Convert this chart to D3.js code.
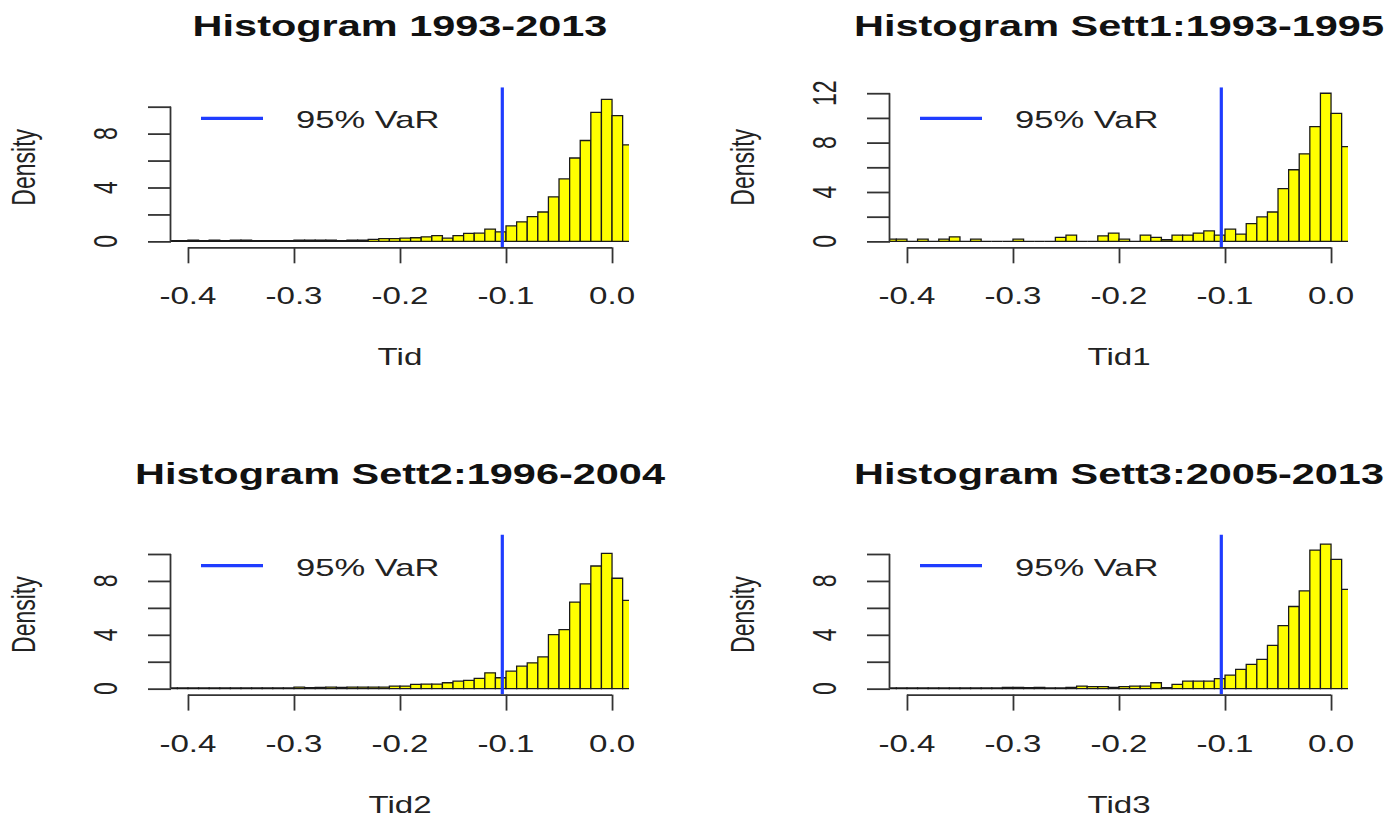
<!DOCTYPE html>
<html>
<head>
<meta charset="utf-8">
<script src="https://cdn.jsdelivr.net/npm/d3@7"></script>
<style>
  html, body { margin: 0; padding: 0; background: #fff; }
  svg { display: block; }
  text { font-family: "Liberation Sans", Arial, Helvetica, sans-serif; fill: #111; }
</style>
</head>
<body>
<svg id="chart" width="1397" height="820"></svg>
<script>
// Bin left edges (width 0.01) shared by every histogram
const binStarts = d3.range(-42, 2).map(i => i / 100);
const binWidth = 0.01;

const titles = ["Histogram 1993-2013", "Histogram Sett1:1993-1995",
                "Histogram Sett2:1996-2004", "Histogram Sett3:2005-2013"];
const xLabels = ["Tid", "Tid1", "Tid2", "Tid3"];
const xTicks = [-0.4, -0.3, -0.2, -0.1, 0.0];
const yTicksAll = [[0, 2, 4, 6, 8, 10], [0, 2, 4, 6, 8, 10, 12], [0, 2, 4, 6, 8, 10], [0, 2, 4, 6, 8, 10]];
const yTickLabels = [[0, 4, 8], [0, 4, 8, 12], [0, 4, 8], [0, 4, 8]];
const yMax = [11, 12, 11, 11];
const varValues = [-0.1035, -0.1035, -0.1035, -0.1035];

// Density per bin, from -0.42 up to 0.01
const densAll = [
  0.05, 0.05, 0.10, 0.05, 0.10, 0.05, 0.10, 0.10, 0.05, 0.05,
  0.05, 0.05, 0.10, 0.10, 0.10, 0.10, 0.05, 0.10, 0.10, 0.15,
  0.20, 0.20, 0.24, 0.27, 0.34, 0.42, 0.24, 0.42, 0.59, 0.61,
  0.91, 0.71, 1.15, 1.45, 1.84, 2.18, 3.31, 4.64, 6.19, 7.49,
  9.58, 10.54, 9.34, 7.17
];
const densSett1 = [
  0.18, 0.18, 0.00, 0.18, 0.00, 0.18, 0.37, 0.00, 0.18, 0.00,
  0.00, 0.00, 0.18, 0.00, 0.00, 0.00, 0.32, 0.51, 0.00, 0.00,
  0.45, 0.67, 0.18, 0.00, 0.51, 0.32, 0.13, 0.51, 0.51, 0.67,
  0.85, 0.51, 0.99, 0.59, 1.44, 1.98, 2.38, 4.28, 5.80, 7.09,
  9.29, 12.00, 10.36, 7.68
];
const densSett2 = [
  0.05, 0.05, 0.05, 0.05, 0.05, 0.05, 0.05, 0.05, 0.05, 0.05,
  0.05, 0.05, 0.12, 0.07, 0.10, 0.12, 0.10, 0.12, 0.12, 0.12,
  0.12, 0.19, 0.19, 0.32, 0.34, 0.34, 0.44, 0.56, 0.61, 0.76,
  1.18, 0.81, 1.30, 1.67, 1.92, 2.36, 4.01, 4.38, 6.43, 7.78,
  9.11, 10.05, 8.20, 6.55
];
const densSett3 = [
  0.05, 0.05, 0.05, 0.05, 0.05, 0.05, 0.05, 0.05, 0.05, 0.05,
  0.05, 0.10, 0.10, 0.07, 0.10, 0.05, 0.05, 0.10, 0.19, 0.15,
  0.15, 0.10, 0.15, 0.19, 0.19, 0.44, 0.07, 0.32, 0.56, 0.56,
  0.56, 0.74, 1.01, 1.43, 1.80, 2.17, 3.22, 4.68, 6.10, 7.26,
  10.29, 10.74, 9.60, 7.38
];
const densities = [densAll, densSett1, densSett2, densSett3];

// Page layout: plot regions of the 2x2 grid
const colX = [171, 890];
const rowY = [87.3, 534.6];
const plotW = 458, plotH = 160;
const SX = 1.44;               // horizontal glyph stretch
const baseFont = 23;
const legendFont = 24;
const titleFont = 28.8;

const svg = d3.select("#chart");
const defs = svg.append("defs");

function stretchedText(g, x, y, str, opts) {
  const t = g.append("text")
    .attr("transform", `translate(${x},${y}) scale(${opts.sx || SX},1)` + (opts.rotate ? ` rotate(${opts.rotate})` : ""))
    .attr("text-anchor", opts.anchor || "middle")
    .attr("font-size", opts.size)
    .text(str);
  if (opts.weight) t.attr("font-weight", opts.weight);
  if (opts.baseline) t.attr("dominant-baseline", opts.baseline);
  if (opts.fill) t.style("fill", opts.fill);
  return t;
}

// tick labels use an ASCII hyphen for negatives
const fmtTick = v => v.toFixed(1);

const domainPad = 0.04;
for (let p = 0; p < 4; p++) {
  const left = colX[p % 2], top = rowY[Math.floor(p / 2)];
  const g = svg.append("g");

  const x = d3.scaleLinear()
    .domain([-0.4 - 0.4 * domainPad, 0 + 0.4 * domainPad])
    .range([left, left + plotW]);
  const y = d3.scaleLinear()
    .domain([-yMax[p] * domainPad, yMax[p] * (1 + domainPad)])
    .range([top + plotH, top]);

  const clipId = "clip" + p;
  defs.append("clipPath").attr("id", clipId)
    .append("rect").attr("x", left).attr("y", top).attr("width", plotW).attr("height", plotH);

  // histogram bars (paths, so empty bins still show as a flat outline)
  const bins = binStarts.map((b, i) => ({ x0: b, x1: b + binWidth, d: densities[p][i] }));
  g.append("g").attr("clip-path", `url(#${clipId})`)
    .selectAll("path").data(bins).join("path")
    .attr("d", d => {
      const xa = x(d.x0), xb = x(d.x1), y0 = y(0), y1 = y(d.d);
      return `M${xa},${y0}V${y1}H${xb}V${y0}Z`;
    })
    .attr("fill", "#ffff00")
    .attr("stroke", "#1a1a1a")
    .attr("stroke-width", 1.3);

  // 95% VaR line across the plot region
  g.append("line")
    .attr("clip-path", `url(#${clipId})`)
    .attr("x1", x(varValues[p])).attr("x2", x(varValues[p]))
    .attr("y1", top).attr("y2", top + plotH)
    .attr("stroke", "#1f3cff").attr("stroke-width", 3.2);

  // x axis
  const xAxis = d3.axisBottom(x).tickValues(xTicks).tickSize(16).tickFormat("");
  const xa = g.append("g").attr("transform", `translate(0,${top + plotH})`).call(xAxis);
  xa.select(".domain").attr("d", `M${x(xTicks[0])},0.5H${x(xTicks[xTicks.length - 1])}`);
  xa.selectAll("path, line").attr("stroke", "#333").attr("stroke-width", 1.8);
  xTicks.forEach(v => stretchedText(g, x(v), top + plotH + 57, fmtTick(v), { size: baseFont, fill: "#222" }));

  // y axis
  const yAxis = d3.axisLeft(y).tickValues(yTicksAll[p]).tickSize(23).tickFormat("");
  const ya = g.append("g").attr("transform", `translate(${left},0)`).call(yAxis);
  const yt = yTicksAll[p];
  ya.select(".domain").attr("d", `M-0.5,${y(yt[0])}V${y(yt[yt.length - 1])}`);
  ya.selectAll("path, line").attr("stroke", "#333").attr("stroke-width", 1.8);
  yTickLabels[p].forEach(v => stretchedText(g, left - 66, y(v), String(v),
    { size: baseFont, rotate: -90, baseline: "central", fill: "#222" }));

  // axis titles
  stretchedText(g, left - 148, top + plotH / 2, "Density", { size: baseFont, rotate: -90, baseline: "central", fill: "#222" });
  stretchedText(g, left + plotW / 2, top + plotH + 118, xLabels[p], { size: baseFont, fill: "#222" });

  // main title
  stretchedText(g, left + plotW / 2, top - 51, titles[p], { size: titleFont, weight: "bold" });

  // legend
  g.append("line")
    .attr("x1", left + 30).attr("x2", left + 92)
    .attr("y1", top + 31).attr("y2", top + 31)
    .attr("stroke", "#1f3cff").attr("stroke-width", 3.2);
  stretchedText(g, left + 125, top + 41, "95% VaR", { size: legendFont, anchor: "start", fill: "#222" });
}
</script>
</body>
</html>
